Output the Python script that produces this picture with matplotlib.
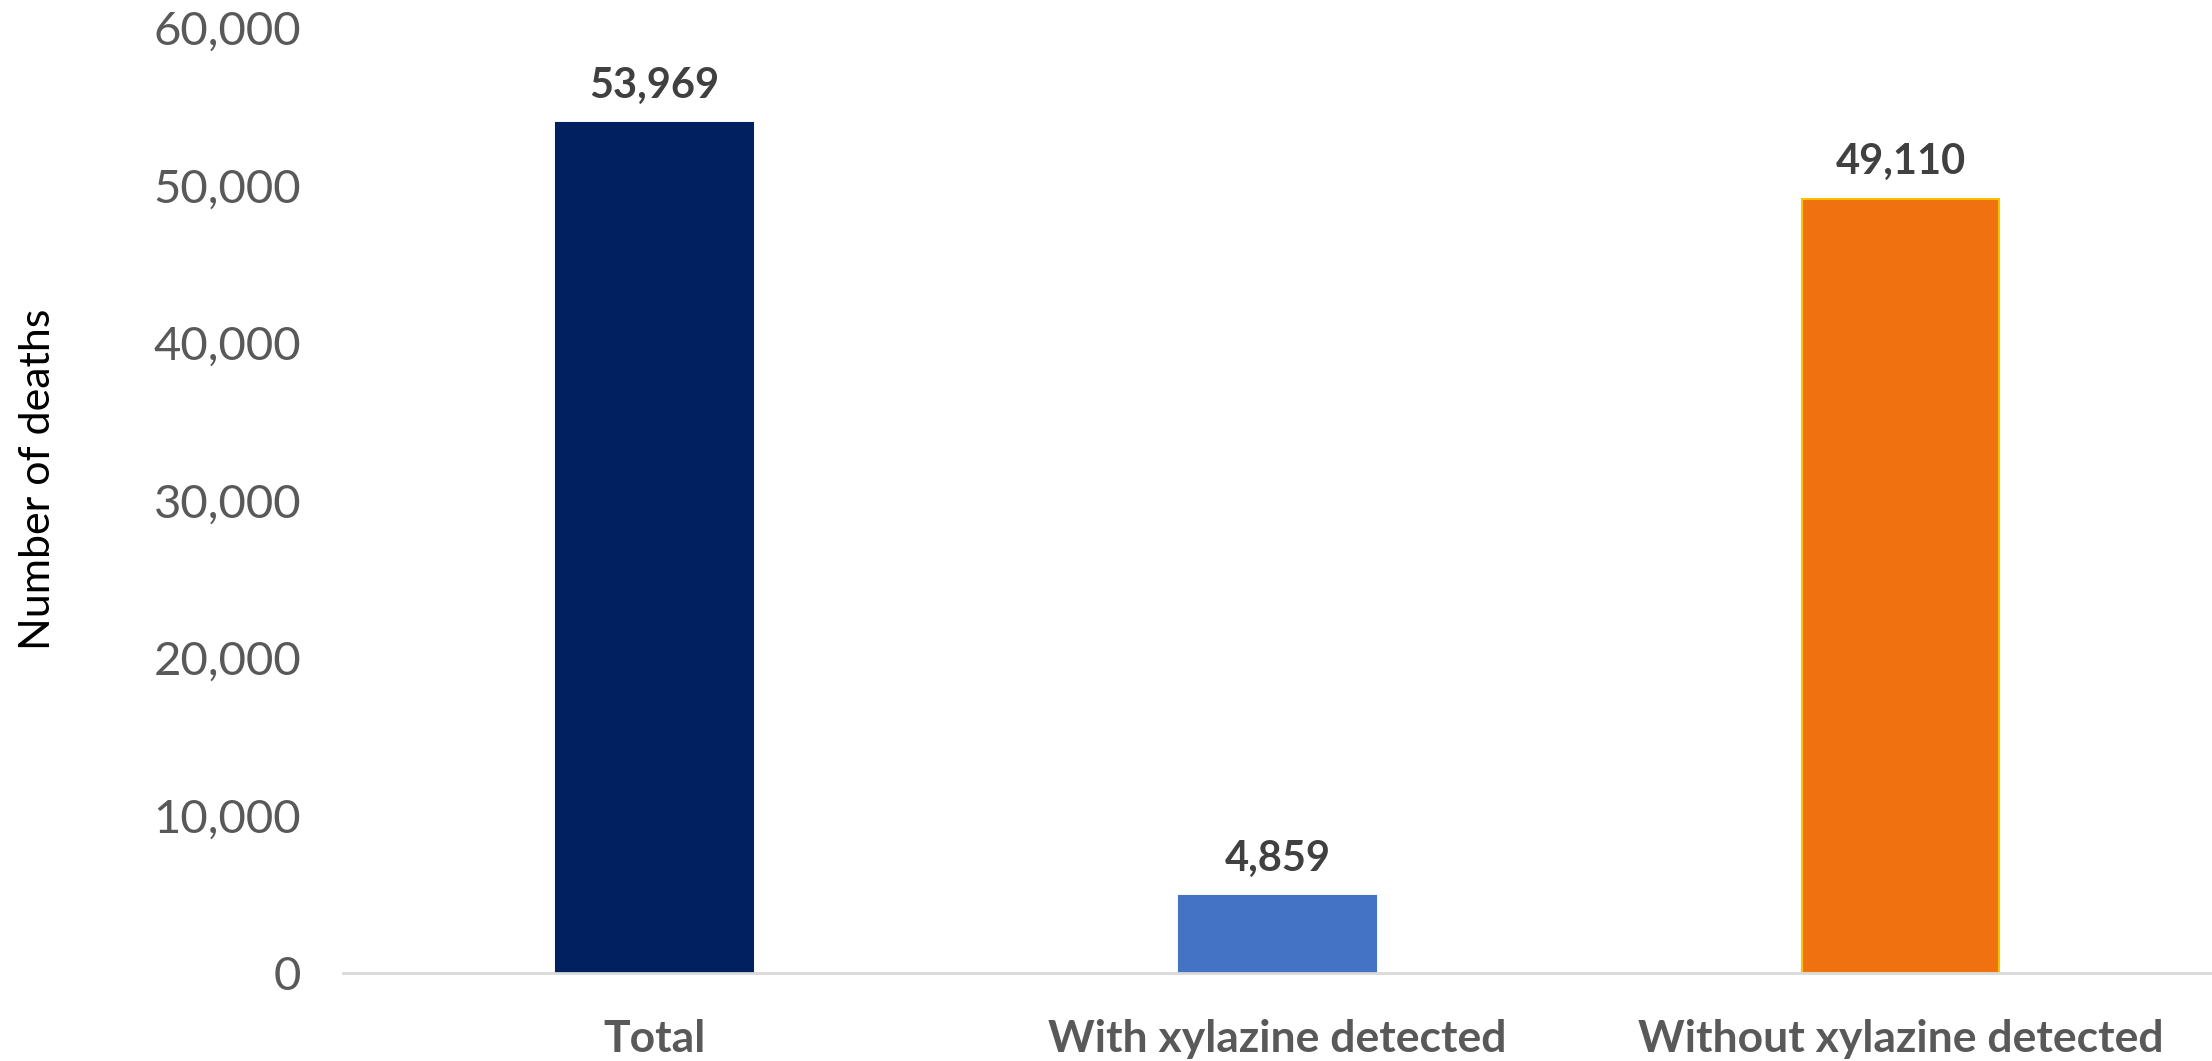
import matplotlib
matplotlib.use("Agg")
import matplotlib.pyplot as plt
from matplotlib.ticker import FuncFormatter

categories = ["Total", "With xylazine detected", "Without xylazine detected"]
values = [53969, 4859, 49110]
colors = ["#002060", "#4472C4", "#F07110"]
edgecolors = ["#002060", "#4472C4", "#FFC000"]
yticks = [0, 10000, 20000, 30000, 40000, 50000, 60000]

plt.rcParams['font.family'] = ['Lato', 'DejaVu Sans']

fig = plt.figure(figsize=(22.12, 10.61), dpi=100)
ax = fig.add_axes([0.155, 0.083, 0.845, 0.8907])

x = list(range(len(categories)))
bars = ax.bar(x, values, width=0.315, color=colors, edgecolor=edgecolors, linewidth=1.5, zorder=3)

for xi, v in zip(x, values):
    ax.annotate(f"{v:,}", (xi, v), xytext=(0, 13), textcoords="offset points",
                ha="center", va="bottom", fontsize=30, fontweight="bold", color="#404040")

ax.set_xlim(-0.5, 2.5)
ax.set_ylim(0, 60000)
ax.set_yticks(yticks)
ax.yaxis.set_major_formatter(FuncFormatter(lambda v, p: f"{int(v):,}"))
ax.set_xticks(x)
ax.set_xticklabels(categories, fontsize=32, fontweight="bold", color="#595959")
ax.tick_params(axis="y", length=0, pad=30, labelsize=34, labelcolor="#595959")
ax.tick_params(axis="x", length=0, pad=33)

for s in ["top", "right", "left"]:
    ax.spines[s].set_visible(False)
ax.spines["bottom"].set_color("#D9D9D9")
ax.spines["bottom"].set_linewidth(2)
ax.spines["bottom"].set_zorder(4)

fig.text(0.017, 0.548, "Number of deaths", rotation=90, ha="center", va="center",
         fontsize=31, color="#000000")

fig.savefig("out.png", dpi=100)
